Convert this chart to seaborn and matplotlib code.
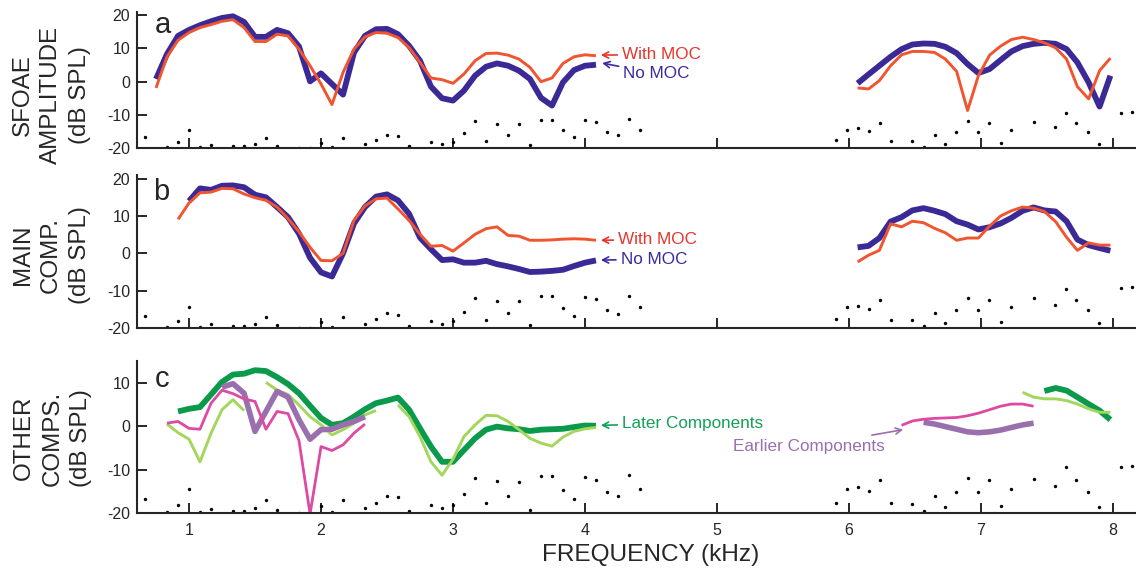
import numpy as np
import pandas as pd
import matplotlib
matplotlib.use("Agg")
import matplotlib.pyplot as plt
import seaborn as sns

# ---- data (kHz, dB SPL) ----
# noise floor dots (same in every panel); -22 = below the axis floor
noise_freq = [0.667, 0.75, 0.833, 0.917, 1.0, 1.083, 1.167, 1.25, 1.333, 1.417,
              1.5, 1.583, 1.667, 1.75, 1.833, 1.917, 2.0, 2.083, 2.167, 2.25,
              2.333, 2.417, 2.5, 2.583, 2.667, 2.75, 2.833, 2.917, 3.0, 3.083,
              3.167, 3.25, 3.333, 3.417, 3.5, 3.583, 3.667, 3.75, 3.833, 3.917,
              4.0, 4.083, 4.167, 4.25, 4.333, 4.417,
              5.82, 5.90, 5.985, 6.07, 6.15, 6.235, 6.32, 6.40, 6.48, 6.565,
              6.65, 6.73, 6.81, 6.90, 6.98, 7.06, 7.15, 7.23, 7.31, 7.40,
              7.48, 7.56, 7.64, 7.72, 7.81, 7.89, 7.98, 8.06, 8.14]
noise_db = [-16.7, -22, -19.8, -18.1, -14.5, -19.8, -19.0, -22, -19.5, -19.5,
            -18.8, -17.0, -19.3, -22, -19.9, -20.0, -18.4, -19.7, -17.0, -22,
            -18.9, -17.6, -16.1, -16.4, -19.5, -22, -18.2, -18.8, -18.1, -15.6,
            -11.9, -17.8, -12.7, -16.1, -12.9, -19.2, -11.5, -11.5, -14.7, -16.8,
            -11.7, -12.3, -15.1, -16.2, -11.3, -14.5,
            -22, -17.7, -14.5, -14.1, -15.0, -12.5, -17.8, -22, -17.9, -19.6,
            -16.1, -18.7, -15.2, -11.9, -15.2, -12.4, -18.4, -14.5, -22, -12.1,
            -22, -13.8, -9.5, -12.5, -15.2, -18.7, -22, -9.3, -9.1]

# frequency grids
grid_low = [0.75, 0.833, 0.917, 1.0, 1.083, 1.167, 1.25, 1.333, 1.417, 1.5,
            1.583, 1.667, 1.75, 1.833, 1.917, 2.0, 2.083, 2.167, 2.25, 2.333,
            2.417, 2.5, 2.583, 2.667, 2.75, 2.833, 2.917, 3.0, 3.083, 3.167,
            3.25, 3.333, 3.417, 3.5, 3.583, 3.667, 3.75, 3.833, 3.917, 4.0, 4.083]
grid_high = [6.065, 6.148, 6.23, 6.315, 6.398, 6.48, 6.565, 6.648, 6.73, 6.815,
             6.898, 6.98, 7.065, 7.148, 7.23, 7.315, 7.398, 7.48, 7.565, 7.648,
             7.73, 7.815, 7.898, 7.98]

# panel a: SFOAE amplitude
a_nomoc_low = [0.8, 8.3, 13.8, 15.6, 17.0, 18.2, 19.2, 19.7, 18.0, 13.5,
               13.5, 15.6, 14.6, 10.6, 0.1, 2.5, -0.7, -3.9, 8.8, 13.8,
               15.8, 15.9, 14.3, 10.8, 6.3, -1.5, -5.0, -5.7, -2.7, 1.8,
               4.5, 5.5, 4.8, 3.3, 0.8, -4.9, -7.2, -0.2, 3.5, 4.8, 5.1]
a_moc_low = [-1.9, 7.5, 12.5, 14.8, 16.3, 17.2, 18.2, 18.7, 16.3, 12.1,
             12.1, 14.3, 13.8, 9.8, 4.8, -0.7, -6.9, 2.8, 9.8, 13.5,
             14.8, 14.6, 13.3, 10.3, 5.8, 1.1, 0.6, -0.5, 2.3, 6.3,
             8.5, 8.6, 8.0, 6.8, 4.3, 0.0, 1.1, 5.5, 7.5, 8.1, 7.8]
a_nomoc_high = [-0.5, 2.2, 4.8, 7.5, 9.8, 11.2, 11.5, 11.4, 10.5, 8.6, 5.3, 2.6,
                3.8, 6.5, 9.1, 10.7, 11.4, 11.7, 11.4, 9.8, 5.8, -0.2, -7.5, 1.8]
a_moc_high = [-1.9, -2.2, 0.3, 4.8, 8.1, 9.1, 9.1, 8.8, 6.8, 3.1, -8.7, 1.8,
              8.0, 10.7, 12.7, 13.4, 12.7, 11.7, 10.2, 6.8, -1.5, -5.2, 3.3, 7.1]

# panel b: main component
b_nomoc_low = [14.0, 17.4, 17.0, 18.1, 18.2, 17.7, 15.7, 15.0, 12.4, 9.7,
               5.3, -1.2, -5.1, -6.2, 0.0, 8.0, 12.4, 15.2, 15.8, 14.2,
               10.6, 4.2, 1.1, -1.8, -1.6, -2.5, -2.5, -2.0, -2.9, -3.5,
               -4.2, -5.0, -4.9, -4.7, -4.4, -3.4, -2.5, -1.9]
b_moc_low = [9.1, 13.5, 16.2, 16.4, 17.4, 17.3, 15.9, 14.9, 14.2, 12.4,
             9.3, 5.8, 1.6, -1.9, -2.0, 0.0, 8.8, 12.7, 14.6, 14.8,
             11.9, 8.8, 5.1, 1.9, 2.1, 0.6, 2.8, 5.1, 6.6, 7.1,
             4.8, 4.6, 3.5, 3.5, 3.6, 3.8, 3.9, 3.8, 3.5]
b_nomoc_high = [1.6, 2.0, 4.1, 8.5, 9.7, 11.5, 12.1, 11.4, 10.5, 8.6, 7.7, 6.4,
                7.0, 8.0, 9.5, 11.4, 12.3, 11.5, 11.2, 8.6, 3.7, 2.2, 1.4, 0.7]
b_moc_high = [-2.3, -0.5, 0.8, 7.9, 7.1, 8.6, 8.2, 6.7, 5.5, 3.5, 4.1, 4.1,
              7.3, 10.0, 11.4, 12.4, 12.1, 11.2, 8.5, 4.3, 0.8, 2.8, 2.2, 2.2]

# panel c: other components (segments)
later_low = [3.4, 4.0, 4.4, 7.3, 10.2, 11.9, 12.1, 12.9, 12.7, 11.3,
             9.7, 7.6, 4.7, 1.9, 0.3, 0.7, 2.2, 3.9, 5.3, 5.9,
             6.6, 3.8, -0.5, -4.7, -8.2, -8.2, -5.5, -2.8, -0.8, -0.1,
             -0.5, -0.7, -1.1, -0.8, -0.7, -0.6, -0.2, 0.15, 0.1]
later_high = [8.1, 8.8, 8.2, 6.7, 5.1, 3.6, 1.5]
later2_a = [0.5, -1.5, -3.0, -8.2, -1.6, 3.8, 6.1, 3.6]
later2_b = [10.1, 8.3, 7.3, 4.9, 2.2, 0.3, -2.0, -0.8, 0.7, 2.6, 3.6]
later2_c = [4.9, 2.2, -2.4, -8.2, -11.3, -7.6, -2.4, 0.3, 2.5, 2.4,
            1.1, -0.8, -2.8, -3.9, -4.6, -2.5, -1.2, -0.6, -0.3]
later2_high = [7.8, 6.7, 6.3, 6.3, 5.9, 5.1, 4.0, 3.2, 3.2]
earlier_low = [9.0, 9.8, 7.6, -1.2, 3.4, 8.0, 6.7, 1.5, -3.0, -0.8, -0.7, 0.3, 1.1, 2.2]
earlier_high = [0.9, 0.5, -0.1, -0.7, -1.3, -1.5, -1.3, -0.9, -0.3, 0.3, 0.7]
earlier2_low = [0.7, 1.1, -0.5, -0.7, 5.3, 8.3, 7.5, 6.3, 5.7, -0.7,
                3.4, 2.9, -3.3, -20.2, -4.7, -5.6, -4.3, -1.6, 0.5]
earlier2_high = [0.2, 1.2, 1.6, 1.8, 1.9, 2.0, 2.4, 3.0, 3.8, 4.6, 5.1, 5.1, 4.6]

BLUE = "#3b2a96"
RED = "#f0552f"
DKGREEN = "#0b9a4b"
LTGREEN = "#a3d65c"
PURPLE = "#9a6fae"
MAGENTA = "#de4aa3"


def draw_line(ax, freq, db, color, lw):
    """Draws one curve segment through seaborn."""
    df = pd.DataFrame({"freq": freq, "db": db})
    sns.lineplot(data=df, x="freq", y="db", ax=ax, color=color, linewidth=lw,
                 estimator=None, sort=False, solid_capstyle="butt")


def draw_noise(ax):
    """Noise floor dots."""
    sns.scatterplot(x=noise_freq, y=noise_db, ax=ax, color="black", s=6,
                    linewidth=0, legend=False)


def style_axis(ax, ylim, yticks, xlabels):
    ax.set_xlim(0.606, 8.174)
    ax.set_ylim(*ylim)
    ax.set_xticks(range(1, 9))
    ax.set_yticks(yticks)
    ax.tick_params(direction="in", length=7, width=1.4, labelsize=11.5, pad=5)
    ax.tick_params(axis="x", pad=7, labelbottom=xlabels)
    sns.despine(ax=ax)
    for s in ("left", "bottom"):
        ax.spines[s].set_linewidth(1.5)
    ax.set_xlabel("")
    ax.set_ylabel("")


def arrow_label(ax, text, head, pos, color, ha="left"):
    ax.annotate(text, xy=head, xytext=pos, color=color, fontsize=12.3,
                ha=ha, va="center",
                arrowprops=dict(arrowstyle="->,head_length=0.35,head_width=0.18",
                                color=color, lw=1.2, shrinkA=1, shrinkB=0))


sns.set_style("ticks")
plt.rcParams["font.family"] = ["Liberation Sans", "DejaVu Sans"]
plt.rcParams["axes.unicode_minus"] = False

fig = plt.figure(figsize=(11.36, 5.71), dpi=100)
ax_a = fig.add_axes([0.1206, 0.7408, 0.8794, 0.2382])
ax_b = fig.add_axes([0.1206, 0.4256, 0.8794, 0.2680])
ax_c = fig.add_axes([0.1206, 0.1016, 0.8794, 0.2660])

# panel a
draw_noise(ax_a)
draw_line(ax_a, grid_low, a_nomoc_low, BLUE, 4.2)
draw_line(ax_a, grid_high, a_nomoc_high, BLUE, 4.2)
draw_line(ax_a, grid_low, a_moc_low, RED, 2.1)
draw_line(ax_a, grid_high, a_moc_high, RED, 2.1)
style_axis(ax_a, (-20, 21), [-20, -10, 0, 10, 20], False)
arrow_label(ax_a, "With MOC", (4.12, 8.0), (4.28, 8.2), "#e8352b")
arrow_label(ax_a, "No MOC", (4.13, 5.6), (4.29, 2.4), "#3a2aa0")
ax_a.text(0.018, 0.846, "a", transform=ax_a.transAxes, fontsize=21, va="baseline")

# panel b
draw_noise(ax_b)
draw_line(ax_b, grid_low[3:], b_nomoc_low, BLUE, 4.2)
draw_line(ax_b, grid_high, b_nomoc_high, BLUE, 4.2)
draw_line(ax_b, grid_low[2:], b_moc_low, RED, 2.1)
draw_line(ax_b, grid_high, b_moc_high, RED, 2.1)
style_axis(ax_b, (-20, 21), [-20, -10, 0, 10, 20], False)
arrow_label(ax_b, "With MOC", (4.12, 3.5), (4.25, 3.7), "#e8352b")
arrow_label(ax_b, "No MOC", (4.12, -1.8), (4.27, -1.6), "#3a2aa0")
ax_b.text(0.016, 0.838, "b", transform=ax_b.transAxes, fontsize=21, va="baseline")

# panel c
draw_noise(ax_c)
draw_line(ax_c, grid_low[2:], later_low, DKGREEN, 4.2)
draw_line(ax_c, grid_high[17:], later_high, DKGREEN, 4.2)
draw_line(ax_c, grid_low[1:9], later2_a, LTGREEN, 2.1)
draw_line(ax_c, grid_low[10:21], later2_b, LTGREEN, 2.1)
draw_line(ax_c, grid_low[22:], later2_c, LTGREEN, 2.1)
draw_line(ax_c, grid_high[15:], later2_high, LTGREEN, 2.1)
draw_line(ax_c, grid_low[6:20], earlier_low, PURPLE, 4.0)
draw_line(ax_c, grid_high[6:17], earlier_high, PURPLE, 4.0)
draw_line(ax_c, grid_low[1:20], earlier2_low, MAGENTA, 2.0)
draw_line(ax_c, grid_high[4:17], earlier2_high, MAGENTA, 2.0)
style_axis(ax_c, (-20, 15), [-20, -10, 0, 10], True)
arrow_label(ax_c, "Later Components", (4.12, 0.2), (4.28, 0.7), "#13a058")
arrow_label(ax_c, "Earlier Components", (6.41, -0.8), (6.27, -4.6), PURPLE, ha="right")
ax_c.text(0.018, 0.829, "c", transform=ax_c.transAxes, fontsize=21, va="baseline")

# axis titles
ylab = dict(rotation=90, ha="center", va="center", fontsize=17.4, linespacing=1.38)
fig.text(0.045, 0.834, "SFOAE\nAMPLITUDE\n(dB SPL)", **ylab)
fig.text(0.045, 0.553, "MAIN\nCOMP.\n(dB SPL)", **ylab)
fig.text(0.046, 0.233, "OTHER\nCOMPS.\n(dB SPL)", **ylab)
fig.text(0.573, 0.028, "FREQUENCY (kHz)", ha="center", va="center", fontsize=17.6)

fig.savefig("out.png", dpi=100)
